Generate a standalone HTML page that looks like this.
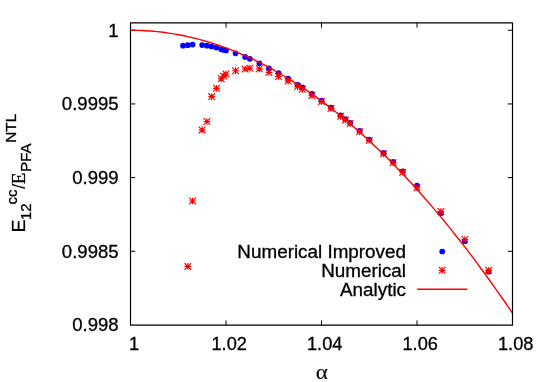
<!DOCTYPE html>
<html><head><meta charset="utf-8"><title>plot</title>
<style>
html,body{margin:0;padding:0;background:#fff;}
svg{display:block;will-change:transform;}
text{font-family:"Liberation Sans",sans-serif;fill:#000;stroke:#000;stroke-width:0.3px;}
.s{font-family:"Liberation Serif",serif;}
</style></head><body>
<svg width="545" height="382" viewBox="0 0 545 382">
<rect x="0" y="0" width="545" height="382" fill="#fff"/>
<path d="M130.50 251.31h4.8M512.50 251.31h-4.8M130.50 177.63h4.8M512.50 177.63h-4.8M130.50 103.94h4.8M512.50 103.94h-4.8M130.50 30.25h4.8M512.50 30.25h-4.8M226.00 325.20v-4.8M226.00 22.85v4.8M321.50 325.20v-4.8M321.50 22.85v4.8M417.00 325.20v-4.8M417.00 22.85v4.8" stroke="#000" stroke-width="1.0" fill="none"/>
<text transform="translate(118.6 331.30) scale(1.02 1)" font-size="18.2" text-anchor="end">0.998</text>
<text transform="translate(118.6 257.61) scale(1.02 1)" font-size="18.2" text-anchor="end">0.9985</text>
<text transform="translate(118.6 183.93) scale(1.02 1)" font-size="18.2" text-anchor="end">0.999</text>
<text transform="translate(118.6 110.24) scale(1.02 1)" font-size="18.2" text-anchor="end">0.9995</text>
<text transform="translate(118.6 36.55) scale(1.02 1)" font-size="18.2" text-anchor="end">1</text>
<text x="134.10" y="350.3" font-size="18.2" text-anchor="middle">1</text>
<text x="229.20" y="350.3" font-size="18.2" text-anchor="middle">1.02</text>
<text x="324.70" y="350.3" font-size="18.2" text-anchor="middle">1.04</text>
<text x="420.20" y="350.3" font-size="18.2" text-anchor="middle">1.06</text>
<text x="515.70" y="350.3" font-size="18.2" text-anchor="middle">1.08</text>
<text class="s" transform="translate(321.9 378.9) scale(1.1 1)" font-size="21" text-anchor="middle" style="stroke-width:0.1px">α</text>
<g transform="translate(25.1 232.4) rotate(-90)"><text transform="translate(0 0) scale(1.06 1)" font-size="18.20">E</text><text transform="translate(12.3 6.3) scale(1.03 1)" font-size="14.56">12</text><text transform="translate(28.0 -8.6) scale(1.03 1)" font-size="14.56">cc</text><text style="stroke-width:0.05px" transform="translate(43.4 0) scale(1.0 1)" font-size="18.20">/</text><text class="s" transform="translate(48.1 0) scale(1.05 1)" font-size="18.20">E</text><text transform="translate(60.6 6.3) scale(1.03 1)" font-size="14.56">PFA</text><text transform="translate(89.6 -9.6) scale(1.06 1)" font-size="14.56">NTL</text></g>
<text transform="translate(406.0 257.80) scale(1.037 1)" font-size="18.2" text-anchor="end">Numerical Improved</text>
<text transform="translate(406.0 276.70) scale(1.037 1)" font-size="18.2" text-anchor="end">Numerical</text>
<text transform="translate(406.0 295.60) scale(1.037 1)" font-size="18.2" text-anchor="end">Analytic</text>
<g fill="#0000ff"><circle cx="183.02" cy="45.70" r="2.85"/><circle cx="187.80" cy="45.20" r="2.85"/><circle cx="192.57" cy="44.60" r="2.85"/><circle cx="202.12" cy="45.10" r="2.85"/><circle cx="206.90" cy="45.70" r="2.85"/><circle cx="211.67" cy="46.50" r="2.85"/><circle cx="216.45" cy="47.60" r="2.85"/><circle cx="221.22" cy="49.20" r="2.85"/><circle cx="223.61" cy="50.00" r="2.85"/><circle cx="226.00" cy="50.40" r="2.85"/><circle cx="235.55" cy="53.35" r="2.85"/><circle cx="245.10" cy="56.90" r="2.85"/><circle cx="249.87" cy="58.80" r="2.85"/><circle cx="259.42" cy="63.30" r="2.85"/><circle cx="268.97" cy="68.30" r="2.85"/><circle cx="278.52" cy="73.00" r="2.85"/><circle cx="288.07" cy="78.60" r="2.85"/><circle cx="297.62" cy="84.90" r="2.85"/><circle cx="302.40" cy="87.40" r="2.85"/><circle cx="311.95" cy="93.80" r="2.85"/><circle cx="321.50" cy="100.60" r="2.85"/><circle cx="331.05" cy="107.70" r="2.85"/><circle cx="340.60" cy="115.40" r="2.85"/><circle cx="345.37" cy="119.00" r="2.85"/><circle cx="350.15" cy="122.80" r="2.85"/><circle cx="359.70" cy="130.80" r="2.85"/><circle cx="369.25" cy="139.50" r="2.85"/><circle cx="383.57" cy="152.90" r="2.85"/><circle cx="393.12" cy="161.80" r="2.85"/><circle cx="402.67" cy="171.30" r="2.85"/><circle cx="417.00" cy="185.70" r="2.85"/><circle cx="440.87" cy="213.20" r="2.85"/><circle cx="464.75" cy="241.20" r="2.85"/><circle cx="488.62" cy="271.70" r="2.85"/><circle cx="442.2" cy="251.5" r="2.85"/></g>
<path d="M184.45 266.40h6.70M187.80 263.05v6.70M184.45 263.05l6.70 6.70M184.45 269.75l6.70 -6.70M189.22 201.00h6.70M192.57 197.65v6.70M189.22 197.65l6.70 6.70M189.22 204.35l6.70 -6.70M198.77 129.90h6.70M202.12 126.55v6.70M198.77 126.55l6.70 6.70M198.77 133.25l6.70 -6.70M203.55 121.50h6.70M206.90 118.15v6.70M203.55 118.15l6.70 6.70M203.55 124.85l6.70 -6.70M208.32 96.60h6.70M211.67 93.25v6.70M208.32 93.25l6.70 6.70M208.32 99.95l6.70 -6.70M213.10 88.30h6.70M216.45 84.95v6.70M213.10 84.95l6.70 6.70M213.10 91.65l6.70 -6.70M217.87 78.80h6.70M221.22 75.45v6.70M217.87 75.45l6.70 6.70M217.87 82.15l6.70 -6.70M220.26 76.10h6.70M223.61 72.75v6.70M220.26 72.75l6.70 6.70M220.26 79.45l6.70 -6.70M222.65 74.00h6.70M226.00 70.65v6.70M222.65 70.65l6.70 6.70M222.65 77.35l6.70 -6.70M232.20 70.70h6.70M235.55 67.35v6.70M232.20 67.35l6.70 6.70M232.20 74.05l6.70 -6.70M241.75 69.00h6.70M245.10 65.65v6.70M241.75 65.65l6.70 6.70M241.75 72.35l6.70 -6.70M246.52 68.20h6.70M249.87 64.85v6.70M246.52 64.85l6.70 6.70M246.52 71.55l6.70 -6.70M256.07 68.80h6.70M259.42 65.45v6.70M256.07 65.45l6.70 6.70M256.07 72.15l6.70 -6.70M265.62 72.50h6.70M268.97 69.15v6.70M265.62 69.15l6.70 6.70M265.62 75.85l6.70 -6.70M275.17 76.50h6.70M278.52 73.15v6.70M275.17 73.15l6.70 6.70M275.17 79.85l6.70 -6.70M284.72 81.10h6.70M288.07 77.75v6.70M284.72 77.75l6.70 6.70M284.72 84.45l6.70 -6.70M294.27 86.60h6.70M297.62 83.25v6.70M294.27 83.25l6.70 6.70M294.27 89.95l6.70 -6.70M299.05 89.30h6.70M302.40 85.95v6.70M299.05 85.95l6.70 6.70M299.05 92.65l6.70 -6.70M308.60 95.60h6.70M311.95 92.25v6.70M308.60 92.25l6.70 6.70M308.60 98.95l6.70 -6.70M318.15 101.60h6.70M321.50 98.25v6.70M318.15 98.25l6.70 6.70M318.15 104.95l6.70 -6.70M327.70 108.60h6.70M331.05 105.25v6.70M327.70 105.25l6.70 6.70M327.70 111.95l6.70 -6.70M337.25 116.30h6.70M340.60 112.95v6.70M337.25 112.95l6.70 6.70M337.25 119.65l6.70 -6.70M342.02 119.90h6.70M345.37 116.55v6.70M342.02 116.55l6.70 6.70M342.02 123.25l6.70 -6.70M346.80 123.60h6.70M350.15 120.25v6.70M346.80 120.25l6.70 6.70M346.80 126.95l6.70 -6.70M356.35 131.80h6.70M359.70 128.45v6.70M356.35 128.45l6.70 6.70M356.35 135.15l6.70 -6.70M365.90 140.40h6.70M369.25 137.05v6.70M365.90 137.05l6.70 6.70M365.90 143.75l6.70 -6.70M380.22 153.80h6.70M383.57 150.45v6.70M380.22 150.45l6.70 6.70M380.22 157.15l6.70 -6.70M389.77 162.70h6.70M393.12 159.35v6.70M389.77 159.35l6.70 6.70M389.77 166.05l6.70 -6.70M399.32 172.20h6.70M402.67 168.85v6.70M399.32 168.85l6.70 6.70M399.32 175.55l6.70 -6.70M413.65 187.70h6.70M417.00 184.35v6.70M413.65 184.35l6.70 6.70M413.65 191.05l6.70 -6.70M437.52 211.60h6.70M440.87 208.25v6.70M437.52 208.25l6.70 6.70M437.52 214.95l6.70 -6.70M461.40 239.50h6.70M464.75 236.15v6.70M461.40 236.15l6.70 6.70M461.40 242.85l6.70 -6.70M485.27 270.30h6.70M488.62 266.95v6.70M485.27 266.95l6.70 6.70M485.27 273.65l6.70 -6.70M438.85 270.30h6.70M442.20 266.95v6.70M438.85 266.95l6.70 6.70M438.85 273.65l6.70 -6.70" stroke="#ff0000" stroke-width="1.15" fill="none"/>
<polyline points="130.50,30.25 134.32,30.28 138.14,30.36 141.96,30.50 145.78,30.70 149.60,30.96 153.42,31.27 157.24,31.64 161.06,32.06 164.88,32.54 168.70,33.08 172.52,33.67 176.34,34.32 180.16,35.03 183.98,35.80 187.80,36.62 191.62,37.49 195.44,38.43 199.26,39.42 203.08,40.46 206.90,41.57 210.72,42.73 214.54,43.95 218.36,45.22 222.18,46.55 226.00,47.94 229.82,49.38 233.64,50.88 237.46,52.43 241.28,54.05 245.10,55.72 248.92,57.44 252.74,59.23 256.56,61.06 260.38,62.96 264.20,64.91 268.02,66.92 271.84,68.99 275.66,71.11 279.48,73.29 283.30,75.52 287.12,77.82 290.94,80.16 294.76,82.57 298.58,85.03 302.40,87.55 306.22,90.12 310.04,92.76 313.86,95.44 317.68,98.19 321.50,100.99 325.32,103.85 329.14,106.76 332.96,109.73 336.78,112.76 340.60,115.85 344.42,118.99 348.24,122.18 352.06,125.44 355.88,128.75 359.70,132.12 363.52,135.54 367.34,139.02 371.16,142.56 374.98,146.15 378.80,149.80 382.62,153.51 386.44,157.27 390.26,161.09 394.08,164.97 397.90,168.90 401.72,172.89 405.54,176.94 409.36,181.04 413.18,185.20 417.00,189.42 420.82,193.69 424.64,198.02 428.46,202.40 432.28,206.85 436.10,211.34 439.92,215.90 443.74,220.51 447.56,225.18 451.38,229.91 455.20,234.69 459.02,239.53 462.84,244.42 466.66,249.37 470.48,254.38 474.30,259.45 478.12,264.57 481.94,269.75 485.76,274.98 489.58,280.27 493.40,285.62 497.22,291.03 501.04,296.49 504.86,302.00 508.68,307.58 512.50,313.21" stroke="#ff0000" stroke-width="1.4" fill="none" stroke-linejoin="round"/>
<path d="M417.1 289.3H467.3" stroke="#ff0000" stroke-width="1.4" fill="none"/>
<path d="M130.5 22.85H512.5V325.2H130.5Z" stroke="#000" stroke-width="1.2" fill="none" stroke-linejoin="round"/>
</svg>
</body></html>
